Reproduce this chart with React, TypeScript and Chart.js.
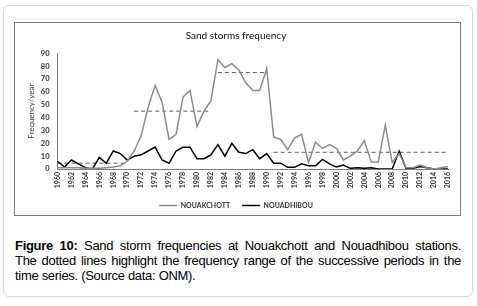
import React, { useEffect, useRef } from 'react';
import { Chart, registerables } from 'chart.js';

Chart.register(...registerables);

const years = [
  '1960', '1961', '1962', '1963', '1964', '1965', '1966', '1967', '1968', '1969',
  '1970', '1971', '1972', '1973', '1974', '1975', '1976', '1977', '1978', '1979',
  '1980', '1981', '1982', '1983', '1984', '1985', '1986', '1987', '1988', '1989',
  '1990', '1991', '1992', '1993', '1994', '1995', '1996', '1997', '1998', '1999',
  '2000', '2001', '2002', '2003', '2004', '2005', '2006', '2007', '2008', '2009',
  '2010', '2011', '2012', '2013', '2014', '2015', '2016',
];

const nouakchott = [
  1, 1, 1, 1, 0.5, 0.5, 0.5, 1, 1.5, 2.5,
  6, 14, 26, 48, 65, 52, 23, 27, 56, 61,
  33, 45, 53, 85, 79, 82, 77, 67, 61, 61,
  78, 25, 23, 15, 24, 27, 5, 21, 16, 19,
  16, 7, 10, 14, 22, 5.5, 5.5, 34, 5, 12,
  1, 1, 3, 1, 0, 1, 2,
];

const nouadhibou = [
  6, 1.5, 7, 4, 1, 0, 9, 4.5, 14, 12,
  7, 10, 11, 14, 17, 7, 4.5, 14, 17, 17,
  8, 8, 11, 19, 10, 20, 13, 12, 15, 8,
  12, 4.5, 4.5, 1.3, 1.3, 4, 2.5, 2.5, 7.5, 4,
  1.5, 3, 0.5, 1, 0.5, 1, 0, 0, 0, 14,
  0, 0.5, 2, 1, 0, 0, 0,
];

const periodStarts = ['1960', '1971', '1983', '1991'];
const periodEnds = ['1970', '1982', '1990', '2016'];
const periodLevels = [4.5, 45, 75, 13];

const yTicks = [0, 10, 20, 30, 40, 50, 60, 70, 80, 90];

const FONT = 'Lato, "Open Sans", sans-serif';

export default function App() {
  const ref = useRef<HTMLCanvasElement>(null);

  useEffect(() => {
    document.body.style.margin = '0';
    const canvas = ref.current;
    if (!canvas) return;

    const periodSets = periodLevels.map((lvl, i) => {
      const s = years.indexOf(periodStarts[i]);
      const e = years.indexOf(periodEnds[i]);
      return {
        label: 'period' + i,
        data: years.map((_, j) => (j >= s && j <= e ? lvl : null)),
        borderColor: '#5a5a5a',
        backgroundColor: '#5a5a5a',
        borderWidth: 1,
        borderDash: [4, 3],
        pointRadius: 0,
        spanGaps: false,
      };
    });

    const chart = new Chart(canvas, {
      type: 'line',
      data: {
        labels: years,
        datasets: [
          {
            label: 'NOUAKCHOTT',
            data: nouakchott,
            borderColor: '#8c8c8c',
            backgroundColor: '#8c8c8c',
            borderWidth: 1.5,
            pointRadius: 0,
            tension: 0,
          },
          {
            label: 'NOUADHIBOU',
            data: nouadhibou,
            borderColor: '#000000',
            backgroundColor: '#000000',
            borderWidth: 1.5,
            pointRadius: 0,
            tension: 0,
          },
          ...periodSets,
        ],
      },
      options: {
        animation: false,
        responsive: false,
        maintainAspectRatio: false,
        layout: { padding: { left: 0, right: 12, top: 0, bottom: 0 } },
        plugins: {
          title: {
            display: true,
            text: 'Sand storms frequency',
            color: '#111',
            font: { family: FONT, size: 10, weight: 'normal' },
            padding: { top: 7, bottom: 11.3 },
          },
          legend: {
            position: 'bottom',
            labels: {
              filter: (item: any) => item.datasetIndex < 2,
              boxWidth: 18,
              boxHeight: 0,
              color: '#333',
              font: { family: FONT, size: 7, weight: 'bold' },
              padding: 12,
            },
          },
          tooltip: { enabled: false },
        },
        scales: {
          x: {
            offset: false,
            grid: { display: false, drawTicks: false },
            border: { display: true, color: '#808080', width: 1 },
            ticks: {
              autoSkip: false,
              minRotation: 90,
              maxRotation: 90,
              padding: 3,
              color: '#333',
              font: { family: FONT, size: 7, weight: 'bold' },
              callback: (_v: any, i: number) => (i % 2 === 0 ? years[i] : ''),
            },
            afterFit: (s: any) => {
              s.height = 21;
            },
          },
          y: {
            min: yTicks[0],
            max: yTicks[yTicks.length - 1],
            grid: { display: false, drawTicks: false },
            border: { display: true, color: '#808080', width: 1 },
            ticks: {
              stepSize: yTicks[1] - yTicks[0],
              padding: 8,
              color: '#333',
              font: { family: FONT, size: 7.5, weight: 'bold' },
            },
            title: {
              display: true,
              text: 'Frequency/year',
              color: '#444',
              font: { family: FONT, size: 8, weight: 'normal' },
              padding: { top: 3, bottom: 0 },
            },
            afterFit: (s: any) => {
              s.width = 33.5;
            },
          },
        },
      },
    });
    return () => chart.destroy();
  }, []);

  const lineStyle: React.CSSProperties = {
    whiteSpace: 'nowrap',
    textAlign: 'justify',
    textAlignLast: 'justify',
    height: 15,
  };

  return (
    <div style={{ position: 'absolute', left: 0, top: 0, width: 477, height: 306, background: '#fff' }}>
      <div
        style={{
          position: 'absolute',
          left: 3,
          top: 5,
          width: 470,
          height: 292,
          border: '1px solid #d9d9d9',
          borderRadius: 6,
          boxSizing: 'border-box',
        }}
      />
      <div
        style={{
          position: 'absolute',
          left: 14,
          top: 22,
          width: 447,
          height: 194,
          border: '1px solid #7f7f7f',
          boxSizing: 'border-box',
        }}
      />
      <canvas
        ref={ref}
        width={436}
        height={196}
        style={{ position: 'absolute', left: 24, top: 23, width: 436, height: 196 }}
      />
      <div
        style={{
          position: 'absolute',
          left: 15,
          top: 238,
          width: 446,
          fontFamily: '"Liberation Sans", Arial, sans-serif',
          fontSize: 13,
          lineHeight: '15px',
          color: '#000',
          letterSpacing: -0.3,
        }}
      >
        <div style={lineStyle}>
          <b>Figure 10:</b> Sand storm frequencies at Nouakchott and Nouadhibou stations.
        </div>
        <div style={lineStyle}>
          The dotted lines highlight the frequency range of the successive periods in the
        </div>
        <div style={{ whiteSpace: 'nowrap', height: 15 }}>time series. (Source data: ONM).</div>
      </div>
    </div>
  );
}
